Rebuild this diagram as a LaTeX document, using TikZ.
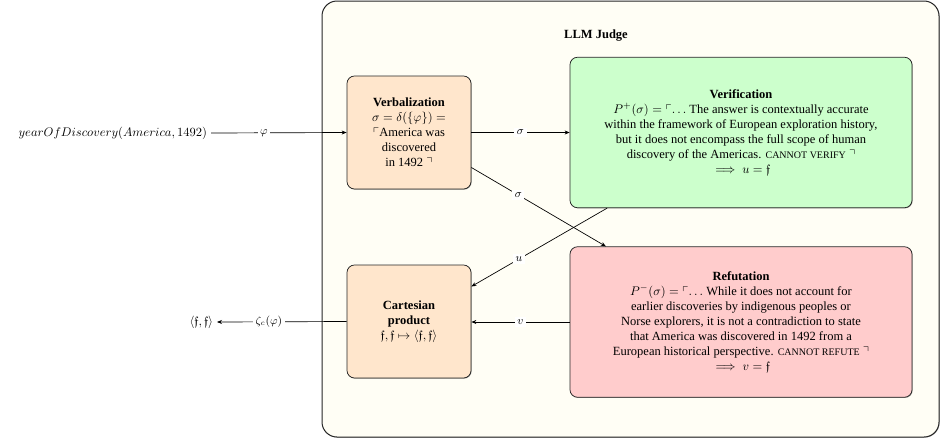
\documentclass[tikz,border=0pt]{standalone}
\usepackage{amsmath,amssymb}
\usepackage[no-math]{fontspec}
\setmainfont{Liberation Serif}
\usetikzlibrary{arrows.meta,shadows,calc}
\newcommand{\fakesc}[1]{{\fontsize{8}{9}\selectfont #1}}
\definecolor{outerfill}{HTML}{FFFEF5}
\definecolor{peach}{HTML}{FFE6CC}
\definecolor{mint}{HTML}{CCFFCC}
\definecolor{rose}{HTML}{FFCCCC}
\begin{document}
\begin{tikzpicture}[x=0.8pt,y=-0.8pt,
  box/.style={draw=black!85,line width=0.6pt,rounded corners=6pt,align=center,inner sep=2pt,
    drop shadow={shadow xshift=0.5pt,shadow yshift=-0.5pt,fill=black,opacity=0.4}},
  smallbox/.style={box,fill=peach,minimum width=99.2pt,minimum height=90.4pt},
  bigbox/.style={box,minimum width=273.6pt,minimum height=120.4pt},
  conn/.style={line width=0.55pt,-{Stealth[length=4pt,width=3.2pt]}},
  lbl/.style={fill=white,inner sep=2pt,font=\small},
  freetext/.style={inner sep=3pt}]
\useasboundingbox (0,0) rectangle (941,439);
% outer LLM Judge box
\draw[line width=0.8pt,draw=black!85,fill=outerfill,rounded corners=12pt,
  drop shadow={shadow xshift=0.5pt,shadow yshift=-0.5pt,fill=black,opacity=0.4}]
  (322,1) rectangle (939,437);
\node[font=\bfseries] (title) at (596,36) {LLM Judge};
% main boxes
\node[smallbox] (verb) at (409,132.5) {\textbf{Verbalization}\\ $\sigma=\delta(\{\varphi\})=$\\ $\ulcorner$America was\\ discovered\\ in 1492 $\urcorner$};
\node[bigbox,fill=mint] (ver) at (741,132.5) {\textbf{Verification}\\
  $P^{+}(\sigma)=\ulcorner\ldots$ The answer is contextually accurate\\
  within the framework of European exploration history,\\
  but it does not encompass the full scope of human\\
  discovery of the Americas. \fakesc{CANNOT VERIFY} $\urcorner$\\
  $\implies u=\mathfrak{f}$};
\node[bigbox,fill=rose] (ref) at (741,322) {\textbf{Refutation}\\
  $P^{-}(\sigma)=\ulcorner\ldots$ While it does not account for\\
  earlier discoveries by indigenous peoples or\\
  Norse explorers, it is not a contradiction to state\\
  that America was discovered in 1492 from a\\
  European historical perspective. \fakesc{CANNOT REFUTE} $\urcorner$\\
  $\implies v=\mathfrak{f}$};
\node[smallbox] (cart) at (409,321.5) {\textbf{Cartesian}\\ \textbf{product}\\ $\mathfrak{f},\mathfrak{f}\mapsto\langle\mathfrak{f},\mathfrak{f}\rangle$};
% outside texts
\node[freetext,anchor=east] (inp) at (211,133) {$yearOfDiscovery(America,1492)$};
\node[freetext,anchor=east] (out) at (217,322) {$\langle\mathfrak{f},\mathfrak{f}\rangle$};
% connectors
\draw[conn] (inp.east) -- node[lbl,pos=0.39] {$\varphi$} (verb.west);
\draw[conn] (verb.east) -- node[lbl] {$\sigma$} (verb.east -| ver.west);
\draw[conn] ([yshift=-28pt]verb.east) -- node[lbl,pos=0.35] {$\sigma$} ([xshift=29pt]ref.north west);
\draw[conn] ([xshift=30pt]ver.south west) -- node[lbl,pos=0.65] {$u$} ([yshift=28pt]cart.east);
\draw[conn] (ref.west) -- node[lbl] {$v$} (ref.west -| cart.east);
\draw[conn] (cart.west) -- node[lbl,pos=0.6] {$\zeta_c(\varphi)$} (out.east);
\end{tikzpicture}
\end{document}
